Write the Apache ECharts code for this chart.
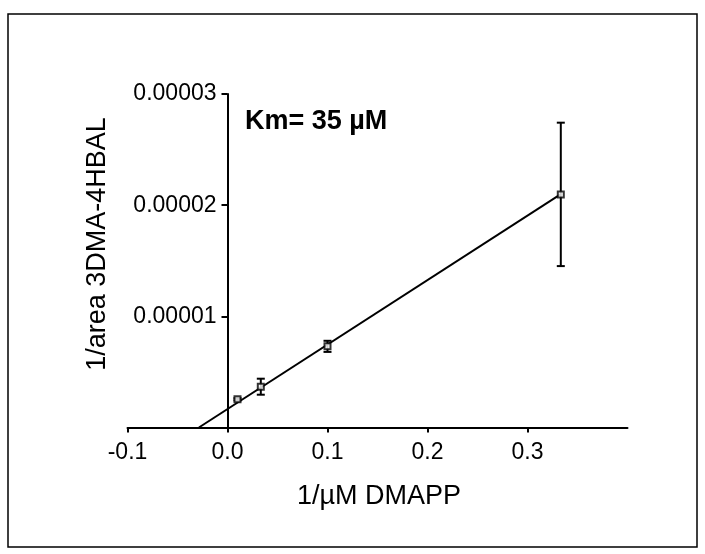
<!DOCTYPE html>
<html>
<head>
<meta charset="utf-8">
<script src="https://cdn.jsdelivr.net/npm/echarts@6/dist/echarts.min.js"></script>
<style>
  html, body { margin: 0; padding: 0; background: #fff; }
  #chart { width: 705px; height: 554px; }
</style>
</head>
<body>
<div id="chart"></div>
<script>
// Lineweaver-Burk data
const xVals = [0.01, 0.0333, 0.1, 0.3333]
const yMeans = [2.54e-6, 3.67e-6, 7.3e-6, 2.097e-5]
const ySd = [0.1e-6, 0.72e-6, 0.5e-6, 0.645e-5]
// fitted line endpoints (x-intercept = -1/Km)
const fitX = [-0.0286, 0.3333]
const fitY = [0, 2.1e-5]
const xTicks = [-0.1, 0, 0.1, 0.2, 0.3]
const yTicks = [0.00001, 0.00002, 0.00003]

const FONT = 'Liberation Sans'
const chart = echarts.init(document.getElementById('chart'))

const points = xVals.map((x, i) => [x, yMeans[i]])
const bars = xVals.map((x, i) => [x, yMeans[i] - ySd[i], yMeans[i] + ySd[i]])

chart.setOption({
  animation: false,
  grid: { left: 127.5, right: 77.5, top: 94, bottom: 126.5, outerBoundsMode: 'none' },
  xAxis: {
    type: 'value',
    min: -0.1,
    max: 0.4,
    interval: 0.1,
    splitLine: { show: false },
    axisLine: { onZero: false, lineStyle: { color: '#000', width: 2 } },
    axisTick: { length: 5, customValues: xTicks, lineStyle: { color: '#000', width: 2 } },
    axisLabel: {
      customValues: xTicks,
      margin: 14,
      color: '#000',
      fontFamily: FONT,
      fontSize: 23,
      formatter: v => v.toFixed(1)
    }
  },
  yAxis: {
    type: 'value',
    min: 0,
    max: 0.00003,
    interval: 0.00001,
    // y axis sits on x = 0, which is 100px right of the grid edge
    offset: -100,
    splitLine: { show: false },
    axisLine: { onZero: false, lineStyle: { color: '#000', width: 2 } },
    axisTick: { length: 6, customValues: yTicks, lineStyle: { color: '#000', width: 2 } },
    axisLabel: {
      customValues: yTicks,
      margin: 11,
      color: '#000',
      fontFamily: FONT,
      fontSize: 23,
      formatter: v => v.toFixed(5)
    }
  },
  graphic: [
    {
      type: 'rect',
      shape: { x: 8, y: 14, width: 689, height: 533 },
      style: { fill: 'none', stroke: '#000', lineWidth: 1.5 },
      z: -1
    },
    {
      type: 'text',
      x: 379, y: 497,
      style: { text: '1/µM DMAPP', fontFamily: FONT, fontSize: 27, fill: '#000', align: 'center', verticalAlign: 'middle' }
    },
    {
      type: 'text',
      x: 98, y: 244,
      rotation: Math.PI / 2,
      style: { text: '1/area 3DMA-4HBAL', fontFamily: FONT, fontSize: 27, fill: '#000', align: 'center', verticalAlign: 'middle' }
    },
    {
      type: 'text',
      x: 245, y: 122,
      style: { text: 'Km= 35 µM', fontFamily: FONT, fontSize: 27, fontWeight: 'bold', fill: '#000', align: 'left', verticalAlign: 'middle' }
    }
  ],
  series: [
    {
      type: 'line',
      data: fitX.map((x, i) => [x, fitY[i]]),
      showSymbol: false,
      symbol: 'none',
      lineStyle: { color: '#000', width: 2 },
      z: 2
    },
    {
      type: 'custom',
      data: bars,
      z: 3,
      renderItem: (params, api) => {
        const lo = api.coord([api.value(0), api.value(1)])
        const hi = api.coord([api.value(0), api.value(2)])
        const cap = 4
        const st = { stroke: '#000', lineWidth: 2 }
        return {
          type: 'group',
          children: [
            { type: 'line', shape: { x1: lo[0], y1: lo[1], x2: hi[0], y2: hi[1] }, style: st },
            { type: 'line', shape: { x1: lo[0] - cap, y1: lo[1], x2: lo[0] + cap, y2: lo[1] }, style: st },
            { type: 'line', shape: { x1: hi[0] - cap, y1: hi[1], x2: hi[0] + cap, y2: hi[1] }, style: st }
          ]
        }
      }
    },
    {
      type: 'scatter',
      data: points,
      symbol: 'rect',
      symbolSize: 6,
      itemStyle: { color: '#fff', borderColor: '#000', borderWidth: 2 },
      z: 4
    }
  ]
})
</script>
</body>
</html>
